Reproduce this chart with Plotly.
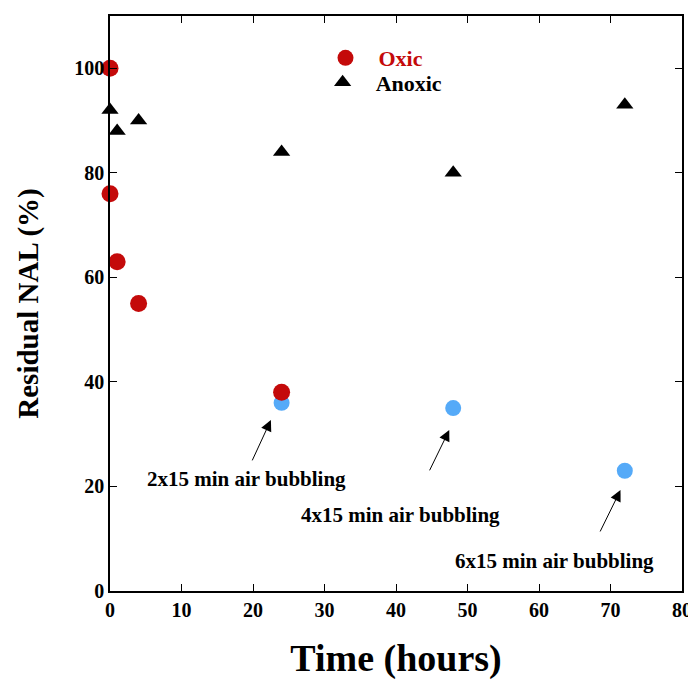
import plotly.graph_objects as go

# Data
oxic_time = [0, 0, 1, 4, 24]
oxic_nal = [100, 76, 63, 55, 38]

anoxic_time = [0, 1, 4, 24, 48, 72]
anoxic_nal = [92, 88, 90, 84, 80, 93]

air_time = [24, 48, 72]
air_nal = [36, 35, 23]

air_labels = ["2x15 min air bubbling", "4x15 min air bubbling", "6x15 min air bubbling"]

FONT = "Liberation Serif"
RED = "#c40a0a"
BLUE = "#55aaf8"

fig = go.Figure()

fig.add_trace(go.Scatter(
    x=air_time, y=air_nal, mode="markers", showlegend=False,
    marker=dict(symbol="circle", size=16, color=BLUE), cliponaxis=False))

fig.add_trace(go.Scatter(
    x=oxic_time, y=oxic_nal, mode="markers", name="<span style='color:%s'>Oxic</span>" % RED,
    marker=dict(symbol="circle", size=17, color=RED), cliponaxis=False, legend="legend"))

fig.add_trace(go.Scatter(
    x=anoxic_time, y=anoxic_nal, mode="markers", name="Anoxic",
    marker=dict(symbol="triangle-up", size=15, color="black"), cliponaxis=False, legend="legend2"))

# arrows (head, tail) and label positions in data coords
arrows = [
    ((22.5, 32.7), (19.8, 24.7), (19.1, 21.4)),
    ((47.45, 30.8), (44.6, 22.8), (40.65, 14.5)),
    ((71.4, 19.3), (68.45, 11.1), (62.1, 5.8)),
]
for (head, tail, lab), text in zip(arrows, air_labels):
    fig.add_annotation(x=head[0], y=head[1], ax=tail[0], ay=tail[1],
                       xref="x", yref="y", axref="x", ayref="y",
                       showarrow=True, arrowhead=2, arrowsize=2.2, arrowwidth=1,
                       arrowcolor="black", text="")
    fig.add_annotation(x=lab[0], y=lab[1], xref="x", yref="y", text="<b>%s</b>" % text,
                       showarrow=False, font=dict(family=FONT, size=21, color="black"))

axis_common = dict(
    showline=True, linecolor="black", linewidth=1.5, mirror="ticks",
    ticks="inside", ticklen=7, tickwidth=1, tickcolor="black",
    showgrid=False, zeroline=False, automargin=False, ticklabeloverflow="allow",
    tickfont=dict(family=FONT, size=20, color="black", weight="bold"),
)

fig.update_xaxes(range=[0, 80], tickvals=[0, 10, 20, 30, 40, 50, 60, 70, 80],
                 title=dict(text="<b>Time (hours)</b>", font=dict(family=FONT, size=38, color="black"), standoff=25),
                 **axis_common)
fig.update_yaxes(range=[0, 110], tickvals=[0, 20, 40, 60, 80, 100],
                 title=dict(text="<b>Residual NAL (%)</b>", font=dict(family=FONT, size=29, color="black"), standoff=27),
                 **axis_common)

leg_common = dict(xanchor="left", yanchor="top", bgcolor="rgba(0,0,0,0)", itemwidth=56,
                  font=dict(family=FONT, size=22, color="black", weight="bold"))
# page has an 8px body margin: figure is 688x672 drawn from (8, 8)
fig.update_layout(
    width=688, height=672,
    margin=dict(l=102, r=14, t=8, b=89),
    plot_bgcolor="white", paper_bgcolor="white",
    legend=dict(x=0.354, y=0.9635, **leg_common),
    legend2=dict(x=0.349, y=0.921, **leg_common),
    font=dict(family=FONT),
)

fig.write_html("out.html")
